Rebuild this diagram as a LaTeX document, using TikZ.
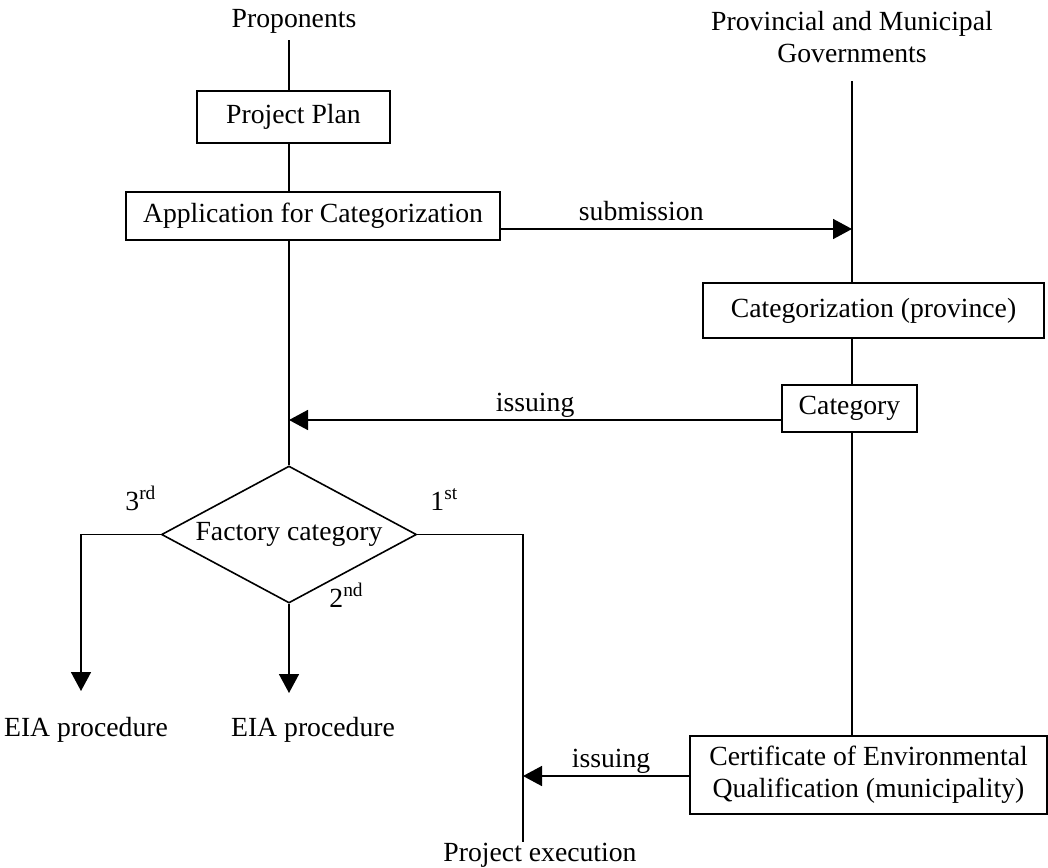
\documentclass[tikz,border=0pt]{standalone}
\usepackage{fontspec}
\setmainfont{Liberation Serif}
\usetikzlibrary{shapes.geometric,arrows.meta}

\begin{document}
\begin{tikzpicture}[
      x=0.5pt, y=-0.5pt,
      font=\fontsize{13.85}{16}\selectfont,
      box/.style = {draw, thick, inner sep=0pt, align=center},
      decision/.style = {diamond, draw, thick, inner sep=0pt, aspect=1.86,
                         minimum width=127.5pt, minimum height=68.5pt},
      edge/.style = {thick},
      tag/.style = {anchor=base, yshift=4.2pt},
      ord/.style = {anchor=base west, inner sep=0pt},
      >={Triangle[length=9.5pt,width=10pt]}
    ]
    \useasboundingbox (0,0) rectangle (1048,867);

    % columns and arrow ends
    \coordinate (spine)  at (289,0);
    \coordinate (rspine) at (852,0);
    \coordinate (xspine) at (523,0);
    \coordinate (tipsub) at (852,229);
    \coordinate (tipiss) at (289,420);
    \coordinate (tipexe) at (523,776);
    \coordinate (tip3)   at (81,691);
    \coordinate (tip2)   at (289,693);

    % left column
    \node (prop) at (294,21) {Proponents};
    \node[box, minimum width=96.5pt, minimum height=26pt] (plan) at (293.5,117) {Project Plan};
    \node[box, minimum width=187pt, minimum height=24pt] (appl) at (313,216) {Application for Categorization};
    \node[decision] (fact) at (289,534.5) {Factory category};
    \node (eia3) at (86,729.5) {EIA procedure};
    \node (eia2) at (313,729.5) {EIA procedure};
    \node[inner ysep=0.5pt] (prj) at (540,855.5) {Project execution};

    % right column
    \node[align=center, inner ysep=9pt] (gov) at (852,37) {Provincial and Municipal\\Governments};
    \node[box, minimum width=170.5pt, minimum height=27.5pt] (catprov) at (873.5,310.5) {Categorization (province)};
    \node[box, minimum width=67.5pt, minimum height=23.5pt] (cat) at (849.5,408.5) {Category};
    \node[box, minimum width=178.5pt, minimum height=39pt] (cert) at (868.5,775) {Certificate of Environmental\\Qualification (municipality)};

    % branch labels
    \node[ord] (lab3) at (125,510) {3\textsuperscript{rd}};
    \node[ord] (lab1) at (430,510) {1\textsuperscript{st}};
    \node[ord] (lab2) at (329,607) {2\textsuperscript{nd}};

    \draw[edge] (prop.south -| spine) -- (plan.north -| spine);
    \draw[edge] (plan.south -| spine) -- (appl.north -| spine);
    \draw[edge] (appl.south -| spine) -- (fact.north);
    \draw[edge] (gov.south -| rspine) -- (catprov.north -| rspine);
    \draw[edge] (catprov.south -| rspine) -- (cat.north -| rspine);
    \draw[edge] (cat.south -| rspine) -- (cert.north -| rspine);

    \draw[edge,->] (appl.east |- tipsub) -- (tipsub) node[tag,pos=0.4] {submission};
    \draw[edge,->] (cat.west |- tipiss) -- (tipiss) node[tag,midway] {issuing};
    \draw[edge,->] (cert.west |- tipexe) -- (tipexe) node[tag,pos=0.47] {issuing};

    \draw[edge,->] (fact.west) -| (tip3);
    \draw[edge,->] (fact.south) -- (tip2);
    \draw[edge] (fact.east) -| (prj.north -| xspine);
  \end{tikzpicture}
\end{document}
